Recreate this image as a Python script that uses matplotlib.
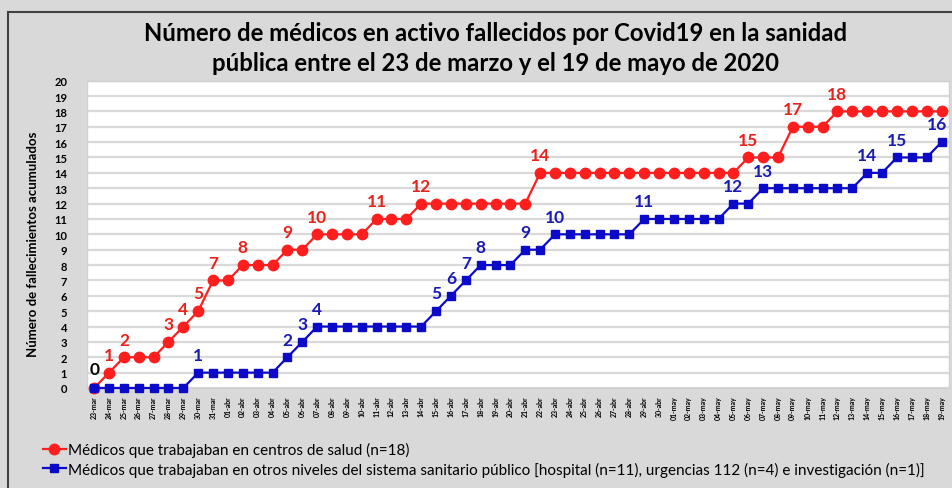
import matplotlib.pyplot as plt
import matplotlib.patches as mpatches
import numpy as np

# fechas del 23-mar al 19-may
fechas = ([f"{d:02d}-mar" for d in range(23, 32)]
          + [f"{d:02d}-abr" for d in range(1, 31)]
          + [f"{d:02d}-may" for d in range(1, 20)])

centros_salud = [0, 1, 2, 2, 2, 3, 4, 5, 7, 7, 8, 8, 8, 9, 9, 10, 10, 10, 10, 11,
                 11, 11, 12, 12, 12, 12, 12, 12, 12, 12, 14, 14, 14, 14, 14, 14, 14, 14, 14, 14,
                 14, 14, 14, 14, 15, 15, 15, 17, 17, 17, 18, 18, 18, 18, 18, 18, 18, 18]
otros_niveles = [0, 0, 0, 0, 0, 0, 0, 1, 1, 1, 1, 1, 1, 2, 3, 4, 4, 4, 4, 4,
                 4, 4, 4, 5, 6, 7, 8, 8, 8, 9, 9, 10, 10, 10, 10, 10, 10, 11, 11, 11,
                 11, 11, 11, 12, 12, 13, 13, 13, 13, 13, 13, 13, 14, 14, 15, 15, 15, 16]

# puntos etiquetados (indice de fecha)
idx_rojo = [1, 2, 5, 6, 7, 8, 10, 13, 15, 19, 22, 30, 44, 47, 50]
idx_azul = [7, 13, 14, 15, 23, 24, 25, 26, 29, 31, 37, 43, 45, 52, 54, 57]

ROJO = '#ff1e1e'
AZUL = '#0a0ac8'
ROJO_TXT = '#e8221c'
AZUL_TXT = '#1a1ab4'

fig = plt.figure(figsize=(9.52, 4.89), dpi=100, facecolor='#d9d9d9')
ax = fig.add_axes([0.0911, 0.2045, 0.9057, 0.6285])
ax.set_facecolor('white')

x = np.arange(len(fechas))
l1, = ax.plot(x, centros_salud, color=ROJO, lw=1.6, marker='o', ms=7.5,
              clip_on=False, zorder=3,
              label='Médicos que trabajaban en centros de salud (n=18)')
l2, = ax.plot(x, otros_niveles, color=AZUL, lw=1.6, marker='s', ms=5.5,
              clip_on=False, zorder=4,
              label='Médicos que trabajaban en otros niveles del sistema sanitario público '
                    '[hospital (n=11), urgencias 112 (n=4) e investigación (n=1)]')

lab_kw = dict(ha='center', va='bottom', fontsize=12.5, fontweight='bold', family='Lato')
ax.annotate('0', (0, 0), xytext=(0, 8), textcoords='offset points', color='black', **lab_kw)
for i in idx_rojo:
    ax.annotate(str(centros_salud[i]), (i, centros_salud[i]), xytext=(0, 7),
                textcoords='offset points', color=ROJO_TXT, **lab_kw)
for i in idx_azul:
    dx = -3 if i == len(fechas) - 1 else 0
    ax.annotate(str(otros_niveles[i]), (i, otros_niveles[i]), xytext=(dx, 7),
                textcoords='offset points', color=AZUL_TXT, **lab_kw)

ax.set_xlim(-0.5, len(fechas) - 0.5)
ax.set_ylim(0, 20)
ax.set_yticks(range(0, 21))
ax.set_yticklabels([str(v) for v in range(0, 21)], fontsize=8, fontweight='bold', family='Lato')
ax.set_xticks(x)
ax.set_xticklabels(fechas, rotation=90, fontsize=5, fontweight='bold', family='Lato')
ax.tick_params(axis='both', length=0, pad=5)
ax.tick_params(axis='y', pad=14)
ax.grid(axis='y', color='#d9d9d9', lw=1.6)
ax.set_axisbelow(True)
for s in ax.spines.values():
    s.set_color('#d0d0d0')
    s.set_linewidth(1)

fig.text(0.035, 0.5, 'Número de fallecimientos acumulados', rotation=90, ha='center',
         va='center', fontsize=9.5, fontweight='bold', family='Lato')

fig.text(0.521, 0.932, 'Número de médicos en activo fallecidos por Covid19 en la sanidad',
         ha='center', va='center', fontsize=17.2, fontweight='bold', family='Lato')
fig.text(0.521, 0.871, 'pública entre el 23 de marzo y el 19 de mayo de 2020',
         ha='center', va='center', fontsize=17.2, fontweight='bold', family='Lato')

fig.legend(handles=[l1, l2], loc='upper left', bbox_to_anchor=(0.045, 0.094),
           frameon=False, prop={'family': 'Lato', 'size': 11}, handlelength=1.5,
           handletextpad=0.15, labelspacing=0.3, borderpad=0, borderaxespad=0)

# marco del grafico
fig.patches.append(mpatches.Rectangle((8 / 952, -0.05), 1.0, 1 - 12.5 / 489 + 0.05,
                                      transform=fig.transFigure, fill=False,
                                      edgecolor='#404040', lw=1.5))

fig.savefig('out.png', dpi=100, facecolor=fig.get_facecolor())
